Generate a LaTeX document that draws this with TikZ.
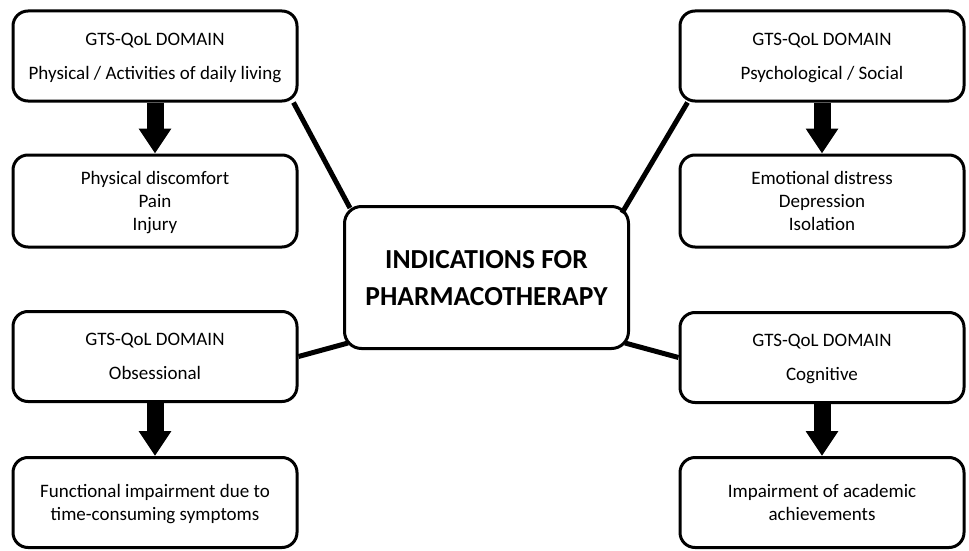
\documentclass[tikz,border=0pt]{standalone}
\usepackage{fontspec}
\setmainfont{Carlito}
\usetikzlibrary{calc,arrows.meta}

\begin{document}
\begin{tikzpicture}[x=1pt, y=-1pt,
    qolbox/.style={rectangle, draw, line width=3pt, rounded corners=15pt, fill=white,
        minimum width=284pt, minimum height=90pt, align=center, text depth=0pt,
        font=\fontsize{19}{22.8}\selectfont},
    ctrbox/.style={rectangle, draw, line width=3pt, rounded corners=17pt, fill=white,
        minimum width=284pt, minimum height=142pt, align=center, text depth=0pt,
        font=\fontsize{27.5}{37}\selectfont\bfseries},
    linkline/.style={draw, line width=5pt},
    bigarrow/.style={draw, line width=17pt, -{Triangle[width=31pt,length=25pt]}}]
    \useasboundingbox (0,0) rectangle (969,551);
    % Place nodes
    \node [ctrbox] (ctr) at (486.5,277.5) {INDICATIONS FOR\\PHARMACOTHERAPY};
    \node [qolbox] (tl) at (155,56) {GTS-QoL DOMAIN\\[11pt]Physical / Activities of daily living};
    \node [qolbox, minimum height=92pt] (tlx) at (155,201) {Physical discomfort\\Pain\\Injury};
    \node [qolbox] (tr) at (822,56) {GTS-QoL DOMAIN\\[11pt]Psychological / Social};
    \node [qolbox, minimum height=92pt] (trx) at (822,201) {Emotional distress\\Depression\\Isolation};
    \node [qolbox] (bl) at (155,356.5) {GTS-QoL DOMAIN\\[11pt]Obsessional};
    \node [qolbox] (blx) at (155,502.5) {Functional impairment due to\\time-consuming symptoms};
    \node [qolbox] (br) at (822,357.5) {GTS-QoL DOMAIN\\[11pt]Cognitive};
    \node [qolbox] (brx) at (822,502.5) {Impairment of academic\\achievements};
    % Domain to consequence
    \path [bigarrow] (tl) -- (tlx);
    \path [bigarrow] (tr) -- (trx);
    \path [bigarrow] (bl) -- (blx);
    \path [bigarrow] (br) -- (brx);
    % Links to the centre
    \path [linkline] ($(tl.south east)+(-5,0)$) -- ($(ctr.north west)+(7,3)$);
    \path [linkline] ($(tr.south west)+(9,0)$) -- ($(ctr.north east)+(-8,8)$);
    \path [linkline] (bl.east) -- ($(ctr.south west)+(5,-7)$);
    \path [linkline] ($(ctr.south east)+(-5,-7)$) -- (br.west);
\end{tikzpicture}
\end{document}
